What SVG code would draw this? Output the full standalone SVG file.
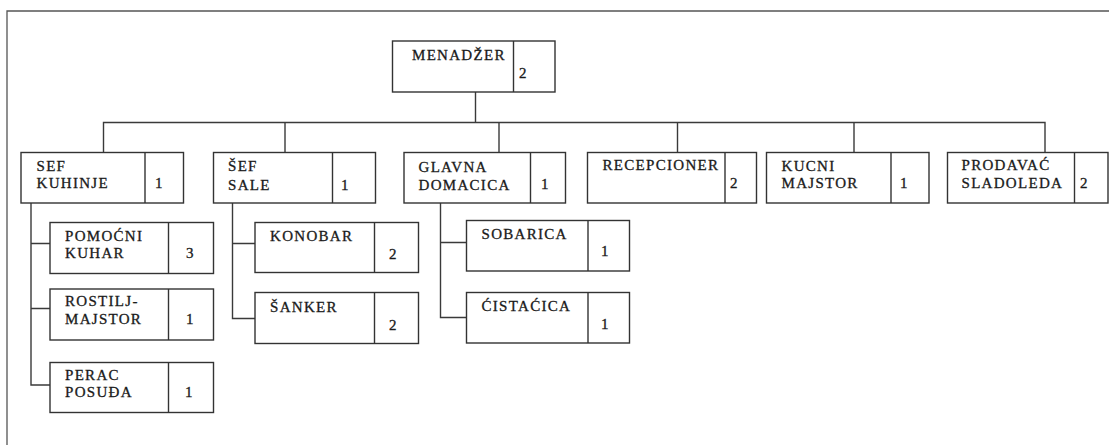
<svg xmlns="http://www.w3.org/2000/svg" width="1109" height="445" viewBox="0 0 1109 445">
<style>
.bx{fill:#fff;stroke:#333;stroke-width:1.4}
.dv{stroke:#333;stroke-width:1.4}
.ln{fill:none;stroke:#3a3a3a;stroke-width:1.4}
.fr{fill:none;stroke:#555;stroke-width:1.3}
text{font-family:"Liberation Serif","Times New Roman",serif;font-size:15px;fill:#1a1a1a;stroke:#1a1a1a;stroke-width:0.3;letter-spacing:1.3px}
.n{letter-spacing:0}
</style>
<rect width="1109" height="445" fill="#fff"/>
<path class="fr" d="M7,445 V11 H1109"/>
<g id="connectors">
<path class="ln" d="M475.5,92 V122.5 M103.5,152.5 V122.5 H1045 V152.5 M285,122.5 V152.5 M499,122.5 V152.5 M677.5,122.5 V152.5 M854,122.5 V152.5"/>
<path class="ln" d="M31,203 V385 H50 M31,243.5 H50 M31,308.5 H50"/>
<path class="ln" d="M232.5,203 V318.5 H255 M232.5,243.5 H255"/>
<path class="ln" d="M440.5,203 V317.5 H466.5 M440.5,242.5 H466.5"/>
</g>
<g id="menadzer">
<rect class="bx" x="392.5" y="41" width="162.5" height="51"/>
<line class="dv" x1="513.5" y1="41" x2="513.5" y2="92"/>
<text x="412" y="59.5">MENADŽER</text>
<text class="n" x="519" y="78">2</text>
</g>
<g id="sef-kuhinje">
<rect class="bx" x="21" y="152.5" width="162.5" height="50.5"/>
<line class="dv" x1="145" y1="152.5" x2="145" y2="203"/>
<text x="36.5" y="170.5">SEF</text>
<text x="36.5" y="188">KUHINJE</text>
<text class="n" x="155" y="188">1</text>
</g>
<g id="sef-sale">
<rect class="bx" x="213.5" y="152.5" width="162" height="50.5"/>
<line class="dv" x1="332.5" y1="152.5" x2="332.5" y2="203"/>
<text x="228" y="171">ŠEF</text>
<text x="228" y="190">SALE</text>
<text class="n" x="341" y="190">1</text>
</g>
<g id="glavna-domacica">
<rect class="bx" x="404" y="152.5" width="161.5" height="50.5"/>
<line class="dv" x1="530.5" y1="152.5" x2="530.5" y2="203"/>
<text x="418.5" y="172">GLAVNA</text>
<text x="418.5" y="189.5">DOMACICA</text>
<text class="n" x="541" y="189">1</text>
</g>
<g id="recepcioner">
<rect class="bx" x="587.5" y="152.5" width="169" height="50.5"/>
<line class="dv" x1="725" y1="152.5" x2="725" y2="203"/>
<text x="602.5" y="170">RECEPCIONER</text>
<text class="n" x="730" y="187.5">2</text>
</g>
<g id="kucni-majstor">
<rect class="bx" x="766.5" y="152.5" width="162.5" height="50.5"/>
<line class="dv" x1="891" y1="152.5" x2="891" y2="203"/>
<text x="781.5" y="170.5">KUCNI</text>
<text x="781.5" y="187.5">MAJSTOR</text>
<text class="n" x="900" y="187.5">1</text>
</g>
<g id="prodavac-sladoleda">
<rect class="bx" x="947.5" y="152.5" width="160.5" height="50.5"/>
<line class="dv" x1="1074.5" y1="152.5" x2="1074.5" y2="203"/>
<text x="961.5" y="170">PRODAVAĆ</text>
<text x="961.5" y="187.5">SLADOLEDA</text>
<text class="n" x="1080" y="187.5">2</text>
</g>
<g id="pomocni-kuhar">
<rect class="bx" x="50" y="222.5" width="163.5" height="51"/>
<line class="dv" x1="168.5" y1="222.5" x2="168.5" y2="273.5"/>
<text x="65" y="240.5">POMOĆNI</text>
<text x="65" y="257.5">KUHAR</text>
<text class="n" x="186" y="257.5">3</text>
</g>
<g id="rostilj-majstor">
<rect class="bx" x="50" y="289" width="163.5" height="51"/>
<line class="dv" x1="168.5" y1="289" x2="168.5" y2="340"/>
<text x="65" y="306">ROSTILJ-</text>
<text x="65" y="324">MAJSTOR</text>
<text class="n" x="186" y="324">1</text>
</g>
<g id="perac-posuda">
<rect class="bx" x="50" y="362.5" width="163.5" height="50"/>
<line class="dv" x1="168.5" y1="362.5" x2="168.5" y2="412.5"/>
<text x="65" y="379.5">PERAC</text>
<text x="65" y="397">POSUĐA</text>
<text class="n" x="185" y="397">1</text>
</g>
<g id="konobar">
<rect class="bx" x="255" y="222.5" width="163.5" height="50"/>
<line class="dv" x1="374.5" y1="222.5" x2="374.5" y2="272.5"/>
<text x="270" y="240.5">KONOBAR</text>
<text class="n" x="389" y="258.5">2</text>
</g>
<g id="sanker">
<rect class="bx" x="255" y="292.5" width="163.5" height="51"/>
<line class="dv" x1="374.5" y1="292.5" x2="374.5" y2="343.5"/>
<text x="270" y="311.5">ŠANKER</text>
<text class="n" x="389" y="329.5">2</text>
</g>
<g id="sobarica">
<rect class="bx" x="466.5" y="220.5" width="163" height="50.5"/>
<line class="dv" x1="588" y1="220.5" x2="588" y2="271"/>
<text x="481.5" y="238.5">SOBARICA</text>
<text class="n" x="601" y="256">1</text>
</g>
<g id="cistacica">
<rect class="bx" x="466.5" y="292.5" width="163" height="50.5"/>
<line class="dv" x1="588" y1="292.5" x2="588" y2="343"/>
<text x="481.5" y="311">ĆISTAĆICA</text>
<text class="n" x="601" y="328.5">1</text>
</g>
</svg>
